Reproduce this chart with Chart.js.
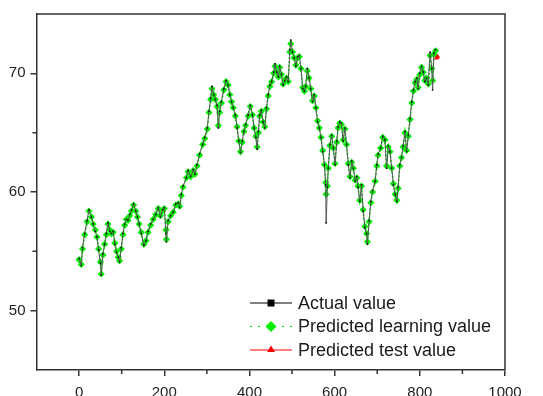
<!DOCTYPE html>
<html>
<head>
<meta charset="utf-8">
<title>Actual vs predicted</title>
<script src="https://cdn.jsdelivr.net/npm/chart.js@4.4.1/dist/chart.umd.min.js"></script>
<style>
  html, body { margin: 0; padding: 0; background: #fff; }
  #wrap { width: 543px; height: 396px; }
</style>
</head>
<body>
<div id="wrap"><canvas id="chart" width="543" height="396"></canvas></div>
<script>
// Sample index (x)
const xs = [0, 5, 8, 13, 19, 23, 29, 33, 38, 42, 46, 50, 52, 56, 60, 64, 68, 72, 76, 80,
  84, 88, 92, 95, 99, 103, 107, 111, 115, 119, 123, 128, 133, 137, 141, 146, 152, 157, 162, 168,
  174, 180, 186, 191, 196, 200, 204, 205, 209, 215, 221, 227, 233, 236, 240, 244, 252, 256, 262, 268,
  272, 277, 283, 290, 295, 301, 305, 309, 312, 316, 320, 324, 327, 330, 334, 340, 345, 350, 354, 358,
  362, 367, 371, 375, 379, 383, 387, 391, 397, 402, 407, 411, 415, 418, 421, 424, 428, 432, 436, 440,
  444, 448, 452, 457, 460, 464, 468, 471, 475, 479, 483, 487, 491, 495, 497, 501, 505, 509, 513, 517,
  521, 525, 529, 532, 536, 540, 544, 548, 552, 556, 560, 564, 568, 572, 576, 579, 580, 583, 585, 589,
  593, 597, 601, 605, 608, 612, 616, 620, 624, 628, 632, 636, 640, 644, 648, 652, 655, 659, 663, 667,
  671, 675, 677, 681, 685, 689, 695, 699, 702, 708, 713, 718, 722, 726, 730, 734, 738, 742, 746, 749,
  753, 757, 761, 765, 769, 773, 777, 781, 785, 789, 793, 796, 800, 804, 808, 812, 816, 820, 824, 828,
  830, 833, 837];

// Actual value
const actualValue = [54.4, 53.8, 55.3, 56.5, 57.6, 58.5, 57.9, 57.3, 56.7, 56.2, 55.1, 54.0, 53.0, 54.8, 55.6, 56.5, 57.4, 56.7, 56.5, 56.7,
  55.6, 54.9, 54.5, 54.1, 55.3, 56.5, 57.3, 57.7, 57.6, 58.1, 58.5, 59.0, 58.4, 57.9, 57.3, 56.5, 55.5, 55.9, 56.7, 57.3,
  57.7, 58.1, 58.7, 57.9, 58.5, 58.7, 56.5, 55.8, 57.6, 58.0, 58.3, 59.0, 59.1, 58.7, 59.8, 60.5, 61.2, 61.8, 61.3, 61.9,
  61.5, 62.3, 63.2, 64.0, 64.6, 65.4, 66.8, 67.9, 68.9, 68.2, 67.8, 67.3, 65.4, 66.8, 67.6, 68.7, 69.4, 69.0, 68.2, 67.6,
  67.1, 66.5, 65.4, 64.3, 63.3, 64.3, 65.1, 65.7, 66.5, 67.3, 66.5, 65.4, 64.6, 63.6, 65.1, 66.5, 66.9, 65.9, 65.4, 67.1,
  68.2, 69.0, 69.3, 70.1, 70.8, 70.1, 69.7, 70.6, 69.9, 69.0, 69.4, 69.7, 69.3, 72.0, 72.8, 71.8, 71.3, 70.6, 71.4, 71.5,
  70.4, 68.7, 68.5, 68.9, 70.4, 69.6, 68.7, 67.6, 68.2, 67.1, 65.9, 65.4, 64.6, 63.4, 62.3, 60.6, 57.4, 60.4, 62.0, 64.0,
  64.8, 63.7, 62.3, 64.3, 65.5, 65.9, 65.8, 64.3, 65.4, 64.0, 62.3, 61.2, 62.6, 62.0, 60.9, 61.3, 60.4, 59.2, 60.6, 58.4,
  57.0, 56.5, 55.6, 57.6, 59.2, 60.1, 60.9, 62.3, 63.2, 63.7, 64.7, 64.4, 62.0, 63.9, 63.4, 62.0, 60.6, 59.8, 59.2, 60.4,
  62.3, 62.9, 63.9, 65.1, 63.4, 64.8, 66.2, 67.6, 68.6, 69.3, 69.6, 68.7, 70.0, 70.6, 70.1, 69.3, 69.6, 69.0, 71.8, 70.4,
  68.6, 71.7, 72.0];

// Predicted learning value
const predictedLearning = [54.3, 53.9, 55.2, 56.4, 57.5, 58.4, 57.9, 57.3, 56.8, 56.2, 55.2, 54.1, 53.1, 54.7, 55.6, 56.4, 57.3, 56.8, 56.5, 56.6,
  55.7, 55.0, 54.5, 54.2, 55.2, 56.4, 57.2, 57.7, 57.6, 58.0, 58.4, 58.9, 58.4, 57.9, 57.3, 56.6, 55.6, 55.9, 56.6, 57.2,
  57.7, 58.1, 58.6, 58.0, 58.4, 58.6, 56.8, 56.0, 57.5, 58.0, 58.3, 58.9, 59.0, 58.8, 59.7, 60.4, 61.2, 61.7, 61.3, 61.8,
  61.5, 62.2, 63.1, 64.0, 64.5, 65.3, 66.7, 67.8, 68.7, 68.2, 67.8, 67.2, 65.6, 66.7, 67.5, 68.6, 69.3, 69.0, 68.2, 67.6,
  67.1, 66.4, 65.5, 64.3, 63.4, 64.2, 65.1, 65.6, 66.4, 67.2, 66.5, 65.4, 64.7, 63.8, 65.0, 66.4, 66.8, 65.9, 65.5, 67.0,
  68.1, 68.9, 69.3, 70.0, 70.6, 70.1, 69.7, 70.5, 69.9, 69.1, 69.4, 69.6, 69.3, 71.8, 72.5, 71.8, 71.3, 70.7, 71.3, 71.4,
  70.4, 68.8, 68.5, 68.9, 70.2, 69.6, 68.7, 67.7, 68.1, 67.1, 66.0, 65.4, 64.6, 63.5, 62.3, 60.8, 59.8, 60.5, 62.0, 63.9,
  64.7, 63.7, 62.4, 64.2, 65.4, 65.8, 65.7, 64.4, 65.3, 64.0, 62.4, 61.3, 62.5, 62.0, 61.0, 61.2, 60.5, 59.3, 60.5, 58.5,
  57.1, 56.5, 55.8, 57.5, 59.1, 60.0, 60.9, 62.2, 63.1, 63.7, 64.6, 64.4, 62.2, 63.8, 63.4, 62.0, 60.7, 59.8, 59.3, 60.3,
  62.2, 62.9, 63.8, 65.0, 63.5, 64.7, 66.1, 67.5, 68.5, 69.2, 69.5, 68.8, 69.9, 70.5, 70.1, 69.4, 69.6, 69.1, 71.5, 70.4,
  69.4, 71.6, 71.9];

// Predicted test value
const testX = [836, 839, 842];
const testValue = [71.6, 71.3, 71.4];

// Axes
const xTicks = [0, 200, 400, 600, 800, 1000];
const xMinor = [100, 300, 500, 700, 900];
const yTicks = [50, 60, 70];
const yMinor = [55, 65];

const FONT = "'Liberation Sans', Arial, sans-serif";
const AXIS = '#333333';

// Функция для рисования рамки, мелких рисок и легенды
const extrasPlugin = {
    id: 'extras',
    afterDraw(chart) {
        const { ctx, chartArea: a, scales } = chart;
        ctx.save();
        ctx.strokeStyle = AXIS;
        ctx.lineWidth = 1.5;
        ctx.beginPath();
        ctx.moveTo(a.left, a.top);
        ctx.lineTo(a.right, a.top);
        ctx.lineTo(a.right, a.bottom);
        xMinor.forEach(v => {
            const px = scales.x.getPixelForValue(v);
            ctx.moveTo(px, a.bottom);
            ctx.lineTo(px, a.bottom + 4);
        });
        yMinor.forEach(v => {
            const py = scales.y.getPixelForValue(v);
            ctx.moveTo(a.left, py);
            ctx.lineTo(a.left - 4, py);
        });
        ctx.stroke();

        // legend
        const rows = [
            { label: 'Actual value', color: '#000000', dash: [], marker: 'rect' },
            { label: 'Predicted learning value', color: '#00ee00', dash: [2, 6], marker: 'diamond' },
            { label: 'Predicted test value', color: '#ff0000', dash: [], marker: 'triangle' }
        ];
        const x0 = 250, x1 = 292, xm = 271, y0 = 303, dy = 23.5;
        rows.forEach((r, i) => {
            const y = y0 + i * dy;
            ctx.strokeStyle = r.color;
            ctx.fillStyle = r.color;
            ctx.lineWidth = 1.2;
            ctx.setLineDash(r.dash);
            ctx.beginPath();
            ctx.moveTo(x0, y);
            ctx.lineTo(x1, y);
            ctx.stroke();
            ctx.setLineDash([]);
            ctx.beginPath();
            if (r.marker === 'rect') {
                ctx.rect(xm - 3.5, y - 3.5, 7, 7);
            } else if (r.marker === 'diamond') {
                ctx.moveTo(xm, y - 5.5);
                ctx.lineTo(xm + 5.5, y);
                ctx.lineTo(xm, y + 5.5);
                ctx.lineTo(xm - 5.5, y);
                ctx.closePath();
            } else {
                ctx.moveTo(xm, y - 4.5);
                ctx.lineTo(xm + 4, y + 2);
                ctx.lineTo(xm - 4, y + 2);
                ctx.closePath();
            }
            ctx.fill();
            ctx.fillStyle = '#1a1a1a';
            ctx.font = '18px ' + FONT;
            ctx.textBaseline = 'middle';
            ctx.fillText(r.label, 298, y + 1);
        });
        ctx.restore();
    }
};

function buildPoints(xv, yv) {
    return xv.map((x, i) => ({ x: x, y: yv[i] }));
}

new Chart(document.getElementById('chart').getContext('2d'), {
    type: 'line',
    data: {
        datasets: [
            {
                label: 'Actual value',
                data: buildPoints(xs, actualValue),
                borderColor: '#555555',
                borderWidth: 1,
                pointStyle: 'rect',
                pointRadius: 1.1,
                pointBackgroundColor: '#111111',
                pointBorderWidth: 0,
                tension: 0
            },
            {
                label: 'Predicted learning value',
                data: buildPoints(xs, predictedLearning),
                borderColor: '#00ee00',
                borderWidth: 1.5,
                borderDash: [2, 2],
                pointStyle: 'rectRot',
                pointRadius: 3.6,
                pointBackgroundColor: '#00ee00',
                pointBorderWidth: 0,
                tension: 0
            },
            {
                label: 'Predicted test value',
                data: buildPoints(testX, testValue),
                borderColor: '#ff0000',
                borderWidth: 1,
                pointStyle: 'triangle',
                pointRadius: 3,
                pointBackgroundColor: '#ff0000',
                pointBorderWidth: 0,
                tension: 0
            }
        ]
    },
    options: {
        responsive: false,
        animation: false,
        events: [],
        layout: { padding: { top: 12, right: 38, left: 0, bottom: 0 } },
        plugins: {
            legend: { display: false },
            tooltip: { enabled: false }
        },
        scales: {
            x: {
                type: 'linear',
                min: -100,
                max: 1000,
                afterBuildTicks: s => { s.ticks = xTicks.map(v => ({ value: v })); },
                afterFit: s => { s.height = 26; },
                grid: { drawOnChartArea: false, drawTicks: true, tickLength: 6, color: AXIS, lineWidth: 1.5 },
                border: { color: AXIS, width: 1.5 },
                ticks: { padding: 8, color: '#222222', font: { family: FONT, size: 15 }, maxRotation: 0,
                    callback: v => String(v) }
            },
            y: {
                type: 'linear',
                min: 45,
                max: 75,
                afterBuildTicks: s => { s.ticks = yTicks.map(v => ({ value: v })); },
                afterFit: s => { s.width = 36.5; },
                grid: { drawOnChartArea: false, drawTicks: true, tickLength: 6, color: AXIS, lineWidth: 1.5 },
                border: { color: AXIS, width: 1.5 },
                ticks: { padding: 5, color: '#222222', font: { family: FONT, size: 15 },
                    callback: v => String(v) }
            }
        }
    },
    plugins: [extrasPlugin]
});
</script>
</body>
</html>
